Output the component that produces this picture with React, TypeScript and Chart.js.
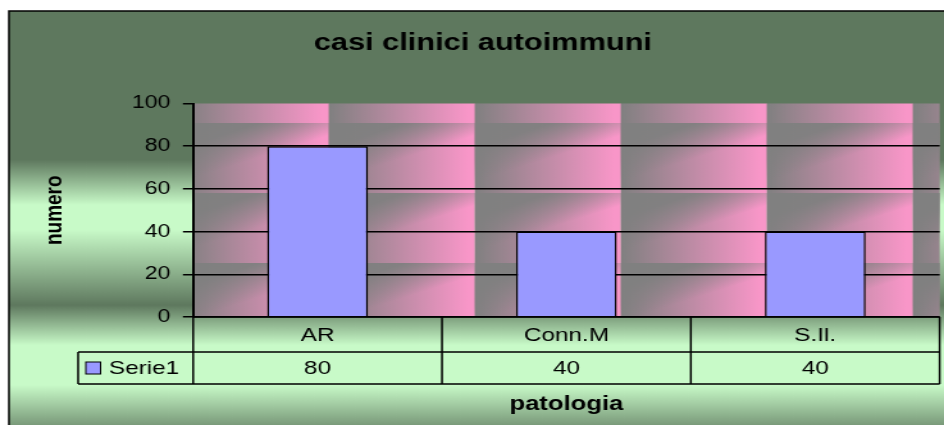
import React, { useEffect, useRef } from "react";
import { Chart, registerables } from "chart.js";

Chart.register(...registerables);

// ---- data ----
const categories = ["AR", "Conn.M", "S.Il."];
const serie1 = [80, 40, 40];
const seriesName = "Serie1";
const yMin = 0;
const yMax = 100;
const yStep = 20;
const chartTitle = "casi clinici autoimmuni";
const yTitle = "numero";
const xTitle = "patologia";

// ---- canvas geometry (drawn narrower, then stretched horizontally like the original) ----
const CW = 737;
const CH = 425;
const FONT = "'Liberation Sans', Arial, Helvetica, sans-serif";

const backgroundPlugin = {
  id: "excelBackground",
  beforeDraw(chart: any) {
    const { ctx, chartArea: a } = chart;
    ctx.save();
    ctx.fillStyle = "#ffffff";
    ctx.fillRect(0, 0, CW, CH);
    const g = ctx.createLinearGradient(0, 0, 0, CH);
    g.addColorStop(0, "#5E785E");
    g.addColorStop(0.376, "#5E785E");
    g.addColorStop(0.482, "#C8FAC8");
    g.addColorStop(0.541, "#C8FAC8");
    g.addColorStop(0.718, "#5E785E");
    g.addColorStop(0.812, "#C8FAC8");
    g.addColorStop(0.906, "#C8FAC8");
    g.addColorStop(1, "#7A9A7A");
    ctx.fillStyle = g;
    ctx.fillRect(7, 11, CW, CH);
    ctx.strokeStyle = "#000";
    ctx.lineWidth = 1.5;
    ctx.beginPath();
    ctx.moveTo(7, CH);
    ctx.lineTo(7, 11);
    ctx.lineTo(CW, 11);
    ctx.stroke();

    // plot-area texture
    ctx.beginPath();
    ctx.rect(a.left, a.top, a.right - a.left, a.bottom - a.top);
    ctx.clip();
    const tw = 114;
    const th = 70;
    const x0 = a.left - 8;
    const y0 = a.top + 19.5 - th;
    for (let x = x0; x < a.right; x += tw) {
      for (let y = y0; y < a.bottom; y += th) {
        const hg = ctx.createLinearGradient(x, 0, x + tw, 0);
        hg.addColorStop(0, "#808080");
        hg.addColorStop(0.95, "#F896C8");
        hg.addColorStop(1, "#F896C8");
        ctx.fillStyle = hg;
        ctx.fillRect(x, y, tw, th);
        const vg = ctx.createLinearGradient(x, y, x + tw * 0.25, y + th);
        vg.addColorStop(0, "rgba(128,128,128,1)");
        vg.addColorStop(0.3, "rgba(128,128,128,0.95)");
        vg.addColorStop(0.72, "rgba(128,128,128,0)");
        vg.addColorStop(1, "rgba(128,128,128,0)");
        ctx.fillStyle = vg;
        ctx.fillRect(x, y, tw, th);
      }
    }
    ctx.restore();
  },
};

const tablePlugin = {
  id: "dataTable",
  afterDraw(chart: any) {
    const { ctx, chartArea: a } = chart;
    const xs = chart.scales.x;
    const n = categories.length;
    const cw = (a.right - a.left) / n;
    const top = a.bottom;
    const r1 = top + 35;
    const r2 = top + 67;
    const legendLeft = 61;
    ctx.save();
    ctx.strokeStyle = "#000";
    ctx.lineWidth = 1.5;
    ctx.beginPath();
    ctx.moveTo(a.left, top);
    ctx.lineTo(a.right, top);
    ctx.moveTo(legendLeft, r1);
    ctx.lineTo(a.right, r1);
    ctx.moveTo(legendLeft, r2);
    ctx.lineTo(a.right, r2);
    ctx.moveTo(legendLeft, r1);
    ctx.lineTo(legendLeft, r2);
    for (let i = 0; i <= n; i++) {
      const x = a.left + i * cw;
      ctx.moveTo(x, top);
      ctx.lineTo(x, r2);
    }
    ctx.stroke();

    ctx.fillStyle = "#000";
    ctx.font = `19px ${FONT}`;
    ctx.textAlign = "center";
    ctx.textBaseline = "middle";
    categories.forEach((c, i) => {
      const cx = xs.getPixelForValue(i);
      ctx.fillText(c, cx, (top + r1) / 2 + 1);
      ctx.fillText(String(serie1[i]), cx, (r1 + r2) / 2 + 1);
    });

    // legend key
    const sy = (r1 + r2) / 2 - 6;
    ctx.fillStyle = "#9999FF";
    ctx.fillRect(67, sy, 11.5, 12);
    ctx.lineWidth = 1;
    ctx.strokeRect(67, sy, 11.5, 12);
    ctx.fillStyle = "#000";
    ctx.textAlign = "left";
    ctx.fillText(seriesName, 85, (r1 + r2) / 2 + 1);

    // x title
    ctx.font = `bold 20px ${FONT}`;
    ctx.textAlign = "center";
    ctx.fillText(xTitle, (a.left + a.right) / 2, r2 + 20);
    ctx.restore();
  },
};

export default function App() {
  const ref = useRef<HTMLCanvasElement | null>(null);

  useEffect(() => {
    document.body.style.margin = "0";
    const canvas = ref.current;
    if (!canvas) return;
    const chart = new Chart(canvas, {
      type: "bar",
      data: {
        labels: categories,
        datasets: [
          {
            label: seriesName,
            data: serie1,
            backgroundColor: "#9999FF",
            borderColor: "#000000",
            borderWidth: 1.5,
            barPercentage: 0.405,
            categoryPercentage: 1,
          },
        ],
      },
      options: {
        responsive: false,
        animation: false,
        events: [],
        layout: { padding: { left: 20.4, right: 3.4, top: 0, bottom: 108 } },
        plugins: {
          legend: { display: false },
          tooltip: { enabled: false },
          title: {
            display: true,
            text: chartTitle,
            color: "#000",
            font: { family: FONT, size: 24, weight: "bold" },
            padding: { top: 29, bottom: 45.7 },
          },
        },
        scales: {
          x: {
            ticks: { display: false },
            grid: { display: false, drawTicks: false },
            border: { display: false },
            afterFit: (s: any) => {
              s.height = 0;
            },
          },
          y: {
            min: yMin,
            max: yMax,
            ticks: {
              stepSize: yStep,
              color: "#000",
              font: { family: FONT, size: 18 },
              padding: 9.8,
            },
            grid: {
              color: (c: any) => (c.tick && c.tick.value === yMax ? "rgba(0,0,0,0)" : "#000"),
              lineWidth: 1.5,
              tickLength: 8,
              tickColor: "#000",
              tickWidth: 1.5,
            },
            border: { display: true, color: "#000", width: 2 },
            title: {
              display: true,
              text: yTitle,
              color: "#000",
              font: { family: FONT, size: 19, weight: "bold" },
              padding: { top: 11.2, bottom: 0 },
            },
            afterFit: (s: any) => {
              s.width = 130.4;
            },
          },
        },
      },
      plugins: [backgroundPlugin, tablePlugin],
    });
    return () => chart.destroy();
  }, []);

  return (
    <canvas
      ref={ref}
      width={CW}
      height={CH}
      style={{ width: "944px", height: "425px", display: "block" }}
    />
  );
}
